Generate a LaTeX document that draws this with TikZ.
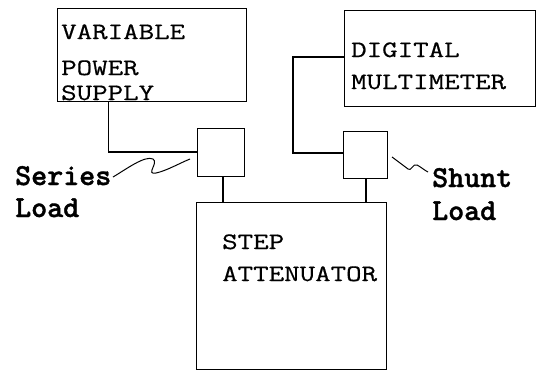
\documentclass[tikz,border=0pt]{standalone}
\usepackage{fontspec}
\newfontfamily\boxfont[FakeStretch=1.28, FakeBold=0.6]{Latin Modern Mono}
\newfontfamily\loadfont[FakeBold=1.2]{lmmonolt10-bold.otf}
\begin{document}
\begin{tikzpicture}[
    x=1pt, y=-1pt,
    unit/.style={rectangle, draw, line width=1.1pt, inner sep=0pt, anchor=north west},
    txt/.style={anchor=base west, inner sep=0pt, font=\boxfont\fontsize{23.5}{23.5}\selectfont},
    lbl/.style={anchor=base west, inner sep=0pt, font=\loadfont\fontsize{30.5}{30.5}\selectfont},
    wire/.style={line width=1.1pt},
    squig/.style={line width=1pt}
]
    \useasboundingbox (0,0) rectangle (537,370);

    % Instruments
    \node[unit, minimum width=189pt, minimum height=93pt] (vps) at (57,8) {};
    \node[unit, minimum width=191pt, minimum height=96pt] (dmm) at (344,10) {};
    \node[unit, minimum width=190pt, minimum height=167pt] (att) at (196,202) {};

    % Loads
    \node[unit, minimum width=47pt, minimum height=48pt] (series) at (197,128) {};
    \node[unit, minimum width=44pt, minimum height=47pt] (shunt) at (343,131) {};

    % Box texts
    \node[txt] (vps1) at (61,39) {VARIABLE};
    \node[txt] (vps2) at (61,75) {POWER};
    \node[txt] (vps3) at (61,100) {SUPPLY};
    \node[txt] (dmm1) at (351,57) {DIGITAL};
    \node[txt] (dmm2) at (351,89) {MULTIMETER};
    \node[txt] (att1) at (222,249) {STEP};
    \node[txt] (att2) at (222,281) {ATTENUATOR};

    % Load labels
    \node[lbl] (serieslbl) at (15,185) {Series};
    \node[lbl] (serieslbl2) at (15,217) {Load};
    \node[lbl] (shuntlbl) at (432,187) {Shunt};
    \node[lbl] (shuntlbl2) at (432,220) {Load};

    % Wiring
    \draw[wire] ([xshift=-139pt]vps.south east) |- ([yshift=-24pt]series.north west);
    \draw[wire] ([xshift=26pt]series.south west) -- ([xshift=27pt]att.north west);
    \draw[wire] ([yshift=-47pt]dmm.north west) -| ++(-51,0) |- ([yshift=-22pt]shunt.north west);
    \draw[wire] ([xshift=23pt]shunt.south west) -- ([xshift=170pt]att.north west);

    % Pointers
    \coordinate (seriesfoot) at (113,177);
    \coordinate (seriestip) at (190,159);
    \coordinate (shunttip) at (392,157);
    \coordinate (shuntfoot) at (428,172);
    \draw[squig] (seriesfoot) .. controls (125,170) and (145,155) .. (153,159)
        .. controls (159,163) and (145,175) .. (156,173) .. controls (166,171) and (180,163) .. (seriestip);
    \draw[squig] (shunttip) -- (408,169) .. controls (411,172) and (413,163) .. (417,165)
        .. controls (421,167) and (424,170) .. (shuntfoot);
\end{tikzpicture}
\end{document}
